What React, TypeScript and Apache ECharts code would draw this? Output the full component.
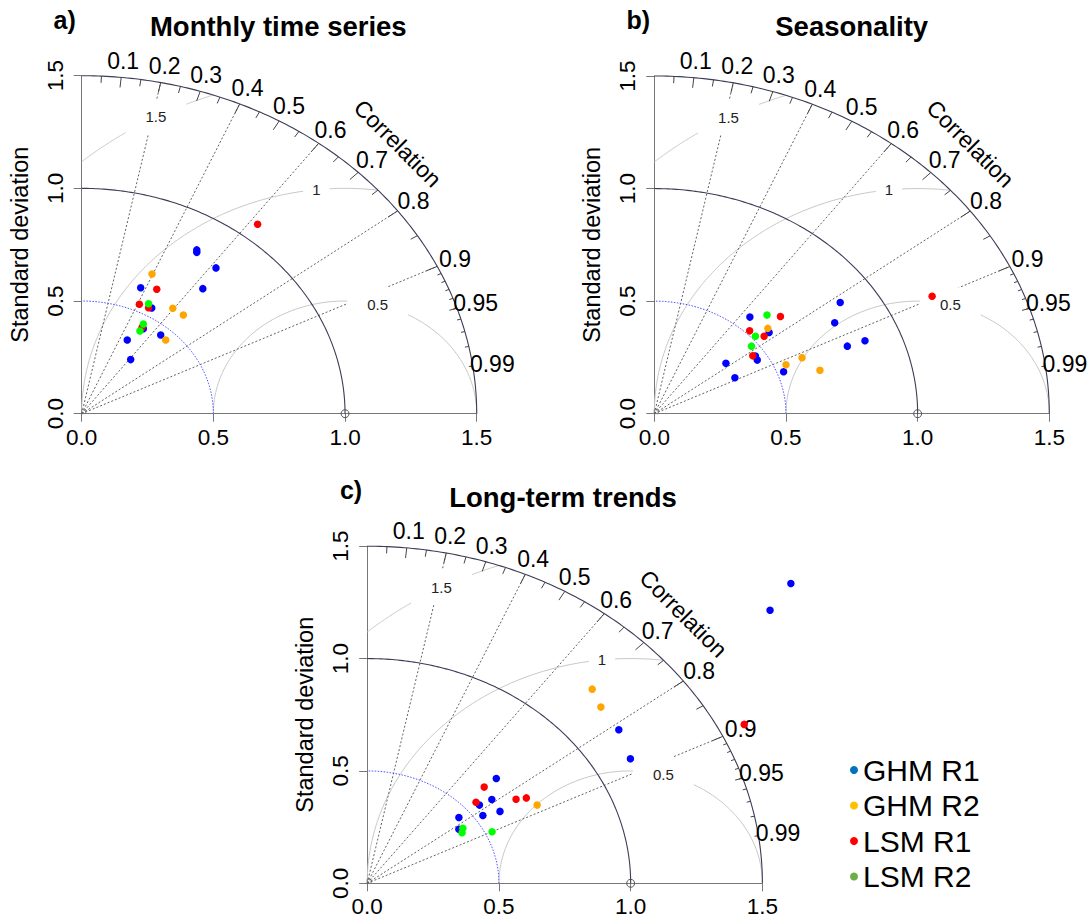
import React, { useEffect, useRef } from 'react';
import * as echarts from 'echarts';

const FONT = '"Liberation Sans", Arial, Helvetica, sans-serif';

// ---------- labels ----------
const panelLetters = ['a)', 'b)', 'c)'];
const panelTitles = ['Monthly time series', 'Seasonality', 'Long-term trends'];
const seriesNames = ['GHM R1', 'GHM R2', 'LSM R1', 'LSM R2'];
const pointColors = ['#0000FF', '#FFA500', '#FF0000', '#00FF00'];
const legendColors = ['#0070C0', '#FFC000', '#FF0000', '#70AD47'];

// ---------- Taylor diagram frame ----------
const maxSd = 1.5;
const refSd = 1.0;
const innerSd = 0.5;
const sdTickStep = 0.5;
const corrLabels = [0.1, 0.2, 0.3, 0.4, 0.5, 0.6, 0.7, 0.8, 0.9, 0.95, 0.99];
const corrBigTicks = [0.1, 0.2, 0.3, 0.4, 0.5, 0.6, 0.7, 0.8, 0.9];
const corrMedTicks = [0.05, 0.15, 0.25, 0.35, 0.45, 0.55, 0.65, 0.75, 0.85, 0.95];
const corrSmallTicks = [0.91, 0.92, 0.93, 0.94, 0.95, 0.96, 0.97, 0.98, 0.99];
const corrLines = [0.2, 0.4, 0.6, 0.8, 0.9];
const rmsdLevels = [0.5, 1, 1.5];
const rmsdLabelAngles = [1.32, 1.68, 2.07]; // radians around the reference point

// ---------- data: [sd * cos, sd * sin] ----------
// a) Monthly time series
const monthlyGhmR1 = [[0.437, 0.727], [0.437, 0.716], [0.510, 0.647], [0.224, 0.559], [0.460, 0.555], [0.266, 0.469], [0.234, 0.377], [0.173, 0.327], [0.300, 0.349], [0.186, 0.240]];
const monthlyGhmR2 = [[0.267, 0.620], [0.346, 0.468], [0.386, 0.438], [0.319, 0.327]];
const monthlyLsmR1 = [[0.668, 0.841], [0.285, 0.552], [0.219, 0.486], [0.254, 0.470], [0.229, 0.383]];
const monthlyLsmR2 = [[0.254, 0.488], [0.234, 0.398], [0.221, 0.367]];
// b) Seasonality
const seasonGhmR1 = [[0.706, 0.494], [0.363, 0.429], [0.685, 0.404], [0.436, 0.361], [0.733, 0.300], [0.800, 0.324], [0.384, 0.256], [0.391, 0.238], [0.272, 0.224], [0.491, 0.186], [0.306, 0.160]];
const seasonGhmR2 = [[0.431, 0.379], [0.561, 0.249], [0.500, 0.217], [0.629, 0.193]];
const seasonLsmR1 = [[1.055, 0.522], [0.479, 0.432], [0.362, 0.368], [0.417, 0.344], [0.374, 0.257]];
const seasonLsmR2 = [[0.428, 0.438], [0.384, 0.344], [0.369, 0.300]];
// c) Long-term trends
const trendGhmR1 = [[1.608, 1.334], [1.529, 1.215], [0.955, 0.683], [0.999, 0.554], [0.490, 0.466], [0.473, 0.373], [0.426, 0.348], [0.504, 0.320], [0.439, 0.302], [0.348, 0.293], [0.348, 0.240]];
const trendGhmR2 = [[0.854, 0.864], [0.887, 0.784], [0.645, 0.348]];
const trendLsmR1 = [[1.431, 0.707], [0.444, 0.428], [0.413, 0.361], [0.565, 0.374], [0.604, 0.380]];
const trendLsmR2 = [[0.363, 0.245], [0.360, 0.225], [0.474, 0.229]];

const panelData = [
  [monthlyGhmR1, monthlyGhmR2, monthlyLsmR1, monthlyLsmR2],
  [seasonGhmR1, seasonGhmR2, seasonLsmR1, seasonLsmR2],
  [trendGhmR1, trendGhmR2, trendLsmR1, trendLsmR2],
];

// ---------- layout ----------
const grids = [
  { left: 81.7, top: 75.7, width: 395, height: 338 },
  { left: 654.3, top: 76, width: 395, height: 337.7 },
  { left: 367.2, top: 546.2, width: 395.2, height: 337.1 },
];
const titlePos = [[278.3, 26.3], [851.7, 26.3], [563, 497]];
const letterPos = [[64.7, 19.5], [638.3, 19.5], [351, 489.5]];

const clamp = (v: number) => Math.max(-1, Math.min(1, v));

function renderFrame(params: any, api: any) {
  if (params.dataIndex !== 0) return null;
  const P = (x: number, y: number) => api.coord([x, y]);
  const polar = (r: number, c: number) => P(r * c, r * Math.sqrt(Math.max(0, 1 - c * c)));
  const children: any[] = [];
  const txt = (extra: any) => ({ fontFamily: FONT, fill: '#000', align: 'center', verticalAlign: 'middle', textAlign: 'center', textVerticalAlign: 'middle', ...extra });
  const arcPts = (r: number) => {
    const pts: number[][] = [];
    for (let i = 0; i <= 150; i++) {
      const t = (i / 150) * (Math.PI / 2);
      pts.push(P(r * Math.cos(t), r * Math.sin(t)));
    }
    return pts;
  };

  // RMSD arcs
  rmsdLevels.forEach((g) => {
    const a0 = Math.acos(clamp((maxSd * maxSd - refSd * refSd - g * g) / (2 * g * refSd)));
    const a1 = Math.acos(clamp(-refSd / g));
    const pts: number[][] = [];
    for (let i = 0; i <= 150; i++) {
      const a = a0 + ((a1 - a0) * i) / 150;
      pts.push(P(refSd + g * Math.cos(a), g * Math.sin(a)));
    }
    children.push({ type: 'polyline', shape: { points: pts }, style: { stroke: '#c8c8c8', lineWidth: 1, fill: 'none' } });
  });

  // correlation rays
  const o = P(0, 0);
  corrLines.forEach((c) => {
    const b = polar(maxSd, c);
    children.push({ type: 'line', shape: { x1: o[0], y1: o[1], x2: b[0], y2: b[1] }, style: { stroke: '#505050', lineWidth: 0.9, lineDash: [2, 2] } });
  });

  // RMSD labels (boxed)
  rmsdLevels.forEach((g, i) => {
    const ang = rmsdLabelAngles[i];
    const p = P(refSd + g * Math.cos(ang), g * Math.sin(ang));
    const label = String(g);
    const w = label.length > 1 ? 20 : 9;
    children.push({
      type: 'text',
      style: txt({ text: label, x: p[0], y: p[1], fontSize: 15, fill: '#222', backgroundColor: '#ffffff', padding: [10, w, 10, w] }),
    });
  });

  // sd arcs
  children.push({ type: 'polyline', shape: { points: arcPts(innerSd) }, style: { stroke: '#4848ff', lineWidth: 1, lineDash: [1.5, 1.5], fill: 'none' } });
  children.push({ type: 'polyline', shape: { points: arcPts(refSd) }, style: { stroke: '#3c3c58', lineWidth: 1.1, fill: 'none' } });
  children.push({ type: 'polyline', shape: { points: arcPts(maxSd) }, style: { stroke: '#3c3c58', lineWidth: 1.1, fill: 'none' } });

  // ticks on the outer arc
  const tick = (c: number, f: number) => {
    const a = polar(maxSd, c);
    const b = polar(maxSd * f, c);
    children.push({ type: 'line', shape: { x1: a[0], y1: a[1], x2: b[0], y2: b[1] }, style: { stroke: '#444', lineWidth: 1 } });
  };
  corrBigTicks.forEach((c) => tick(c, 0.97));
  corrMedTicks.forEach((c) => tick(c, 0.98));
  corrSmallTicks.forEach((c) => tick(c, 0.99));

  // correlation labels
  corrLabels.forEach((c) => {
    const p = polar(maxSd * 1.05, c);
    children.push({ type: 'text', style: txt({ text: String(c), x: p[0], y: p[1], fontSize: 23 }) });
  });
  const cp = P(maxSd * 0.8, maxSd * 0.8);
  children.push({ type: 'text', x: cp[0], y: cp[1], rotation: -Math.PI / 4, style: txt({ text: 'Correlation', x: 0, y: 0, fontSize: 23 }) });

  // reference point and origin mark
  const r = P(refSd, 0);
  children.push({ type: 'circle', shape: { cx: r[0], cy: r[1], r: 4 }, style: { stroke: '#555', lineWidth: 1, fill: 'none' } });
  children.push({ type: 'rect', shape: { x: o[0], y: o[1] - 4, width: 4, height: 4 }, style: { stroke: '#777', lineWidth: 0.8, fill: 'none' } });

  return { type: 'group', children };
}

function buildOption() {
  const xAxis = grids.map((_, i) => ({
    gridIndex: i,
    type: 'value',
    min: 0,
    max: maxSd,
    interval: sdTickStep,
    axisLine: { show: true, onZero: false, lineStyle: { color: '#777', width: 1 } },
    axisTick: { show: true, length: 8, lineStyle: { color: '#777' } },
    splitLine: { show: false },
    axisLabel: { formatter: (v: number) => v.toFixed(1), fontSize: 22.5, color: '#000', margin: 12, fontFamily: FONT },
  }));
  const yAxis = grids.map((_, i) => ({
    gridIndex: i,
    type: 'value',
    min: 0,
    max: maxSd,
    interval: sdTickStep,
    name: 'Standard deviation',
    nameLocation: 'middle',
    nameRotate: 90,
    nameGap: 50,
    nameTextStyle: { fontSize: 23.5, color: '#000', fontFamily: FONT },
    axisLine: { show: true, onZero: false, lineStyle: { color: '#777', width: 1 } },
    axisTick: { show: true, length: 8, lineStyle: { color: '#777' } },
    splitLine: { show: false },
    axisLabel: { formatter: (v: number) => v.toFixed(1), fontSize: 22.5, color: '#000', margin: 15, rotate: 90, fontFamily: FONT },
  }));

  const series: any[] = [];
  grids.forEach((_, i) => {
    series.push({
      type: 'custom',
      name: 'frame' + i,
      xAxisIndex: i,
      yAxisIndex: i,
      data: [[0, 0]],
      encode: { x: 0, y: 1 },
      renderItem: renderFrame,
      clip: false,
      silent: true,
      z: 1,
    });
  });
  grids.forEach((_, i) => {
    panelData[i].forEach((pts, k) => {
      series.push({
        type: 'scatter',
        name: seriesNames[k],
        xAxisIndex: i,
        yAxisIndex: i,
        data: pts,
        symbol: 'circle',
        symbolSize: 7.5,
        itemStyle: { color: pointColors[k], opacity: 1 },
        clip: false,
        z: 3 + k,
      });
    });
  });

  const graphicEls: any[] = [];
  panelTitles.forEach((t, i) => {
    graphicEls.push({
      type: 'text',
      x: titlePos[i][0],
      y: titlePos[i][1],
      style: { text: t, x: 0, y: 0, fontSize: 27.5, fontWeight: 'bold', fontFamily: FONT, fill: '#000', align: 'center', verticalAlign: 'middle', textAlign: 'center', textVerticalAlign: 'middle' },
    });
    graphicEls.push({
      type: 'text',
      x: letterPos[i][0],
      y: letterPos[i][1],
      style: { text: panelLetters[i], x: 0, y: 0, fontSize: 25, fontWeight: 'bold', fontFamily: FONT, fill: '#000', align: 'center', verticalAlign: 'middle', textAlign: 'center', textVerticalAlign: 'middle' },
    });
  });

  return {
    animation: false,
    backgroundColor: '#ffffff',
    textStyle: { fontFamily: FONT },
    grid: grids.map((g) => ({ ...g, containLabel: false })),
    xAxis,
    yAxis,
    legend: {
      orient: 'vertical',
      left: 845,
      top: 750,
      itemWidth: 8,
      itemHeight: 8,
      itemGap: 5.5,
      icon: 'circle',
      selectedMode: false,
      textStyle: { fontSize: 30, lineHeight: 30, color: '#000', fontFamily: FONT },
      data: seriesNames.map((n, i) => ({ name: n, itemStyle: { color: legendColors[i] } })),
    },
    graphic: { elements: graphicEls },
    series,
  };
}

export default function App() {
  const ref = useRef<HTMLDivElement>(null);
  useEffect(() => {
    if (!ref.current) return;
    const chart = echarts.init(ref.current, null, { renderer: 'svg' });
    chart.setOption(buildOption() as any);
    return () => chart.dispose();
  }, []);
  return (
    <div
      ref={ref}
      style={{ position: 'absolute', left: 0, top: 0, width: 1092, height: 921, background: '#ffffff' }}
    />
  );
}
